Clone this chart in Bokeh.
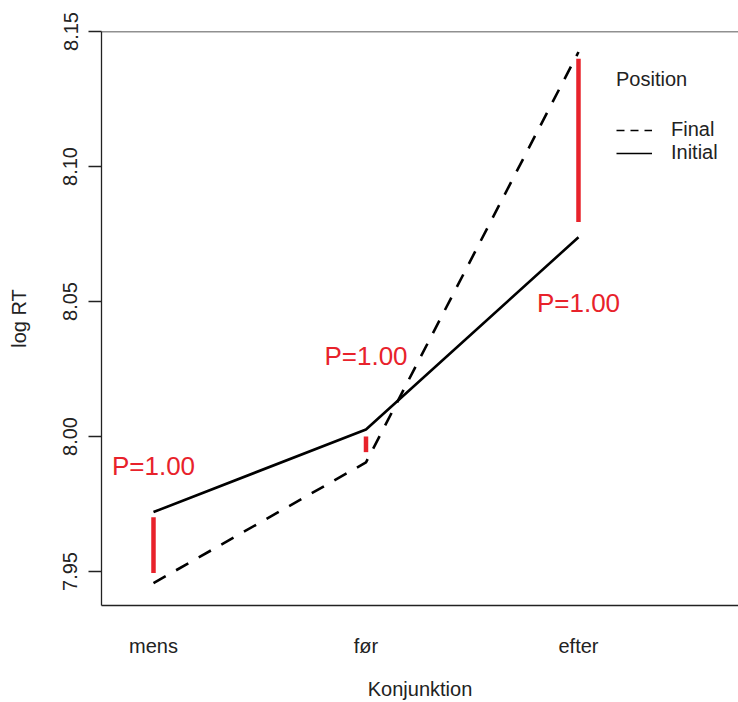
from bokeh.plotting import figure
from bokeh.models import (Range1d, FixedTicker, NumeralTickFormatter, Span,
                          Legend, LegendItem, ColumnDataSource)
from bokeh.embed import file_html
from bokeh.resources import INLINE
from bokeh.core.properties import value

# ---- data ----
categories = ["mens", "før", "efter"]
initial = [7.9720, 8.0026, 8.0738]
final = [7.9457, 7.9904, 8.1424]
seg_top = [7.9701, 8.0000, 8.1399]
seg_bottom = [7.9494, 7.9942, 8.0794]
p_labels = ["P=1.00", "P=1.00", "P=1.00"]
p_label_y = [7.9892, 8.0299, 8.0495]
y_ticks = [7.95, 8.00, 8.05, 8.10, 8.15]
series_names = ["Final", "Initial"]

xs = list(range(1, len(categories) + 1))
FONT = "Liberation Sans"
RED = "#e8222b"
INK = "#222222"
NAN = float("nan")

p = figure(width=738, height=702, output_backend="svg", toolbar_location=None,
           x_range=Range1d(0.7553, 3.753), y_range=Range1d(7.9374, 8.15),
           min_border_left=101, min_border_right=0, min_border_top=31,
           min_border_bottom=97)
p.outline_line_color = None
p.xgrid.visible = False
p.ygrid.visible = False
p.background_fill_color = "white"
p.border_fill_color = "white"

# lines
final_r = p.line(xs, final, line_color="black", line_width=2.6, line_dash="14 12")
init_r = p.line(xs, initial, line_color="black", line_width=2.6)

# red segments
p.segment(x0=xs, y0=seg_bottom, x1=xs, y1=seg_top, line_color=RED, line_width=4.5)

# P labels
src = ColumnDataSource(dict(x=xs, y=p_label_y, t=p_labels))
p.text(x="x", y="y", text="t", source=src, text_color=RED,
       text_font=value(FONT), text_font_size="26px",
       text_align="center", text_baseline="middle")

# top border
p.add_layout(Span(location=8.15, dimension="width", line_color=INK, line_width=1.3))

# y axis
yax = p.yaxis[0]
yax.ticker = FixedTicker(ticks=y_ticks)
yax.formatter = NumeralTickFormatter(format="0.00")
yax.major_label_orientation = "vertical"
yax.major_tick_out = 13
yax.major_tick_in = 0
yax.minor_tick_out = 0
yax.minor_tick_in = 0
yax.major_label_standoff = 11
yax.major_label_text_font = FONT
yax.major_label_text_font_size = "20px"
yax.major_label_text_color = INK
yax.axis_label = "log RT"
yax.axis_label_text_font = FONT
yax.axis_label_text_font_size = "20px"
yax.axis_label_text_font_style = "normal"
yax.axis_label_text_color = INK
yax.axis_label_standoff = 31
yax.axis_line_color = INK
yax.axis_line_width = 1.3
yax.major_tick_line_color = INK
yax.major_tick_line_width = 1.3

# x axis
xax = p.xaxis[0]
xax.ticker = FixedTicker(ticks=xs)
xax.major_label_overrides = {x: c for x, c in zip(xs, categories)}
xax.major_tick_out = 0
xax.major_tick_in = 0
xax.minor_tick_out = 0
xax.minor_tick_in = 0
xax.major_label_standoff = 29
xax.major_label_text_font = FONT
xax.major_label_text_font_size = "20px"
xax.major_label_text_color = INK
xax.axis_label = "Konjunktion"
xax.axis_label_text_font = FONT
xax.axis_label_text_font_size = "20px"
xax.axis_label_text_font_style = "normal"
xax.axis_label_text_color = INK
xax.axis_label_standoff = 18
xax.axis_line_color = INK
xax.axis_line_width = 1.3

# legend with proxy glyphs (not visible in the plot area)
proxy_final = p.line([NAN, NAN], [NAN, NAN], line_color="black", line_width=1.5, line_dash="8 6")
proxy_init = p.line([NAN, NAN], [NAN, NAN], line_color="black", line_width=1.5)
legend = Legend(items=[LegendItem(label=series_names[0], renderers=[proxy_final]),
                       LegendItem(label=series_names[1], renderers=[proxy_init])],
                location=(515, 441), title="Position",
                title_text_font=FONT, title_text_font_size="20px",
                title_text_font_style="normal", title_text_color=INK,
                title_standoff=27,
                label_text_font=FONT, label_text_font_size="20px",
                label_text_color=INK,
                glyph_width=36, glyph_height=22, label_height=22,
                label_standoff=19, spacing=0, padding=0, margin=0,
                border_line_color=None, background_fill_alpha=0)
p.add_layout(legend, "center")

open("out.html", "w").write(file_html(p, INLINE))
